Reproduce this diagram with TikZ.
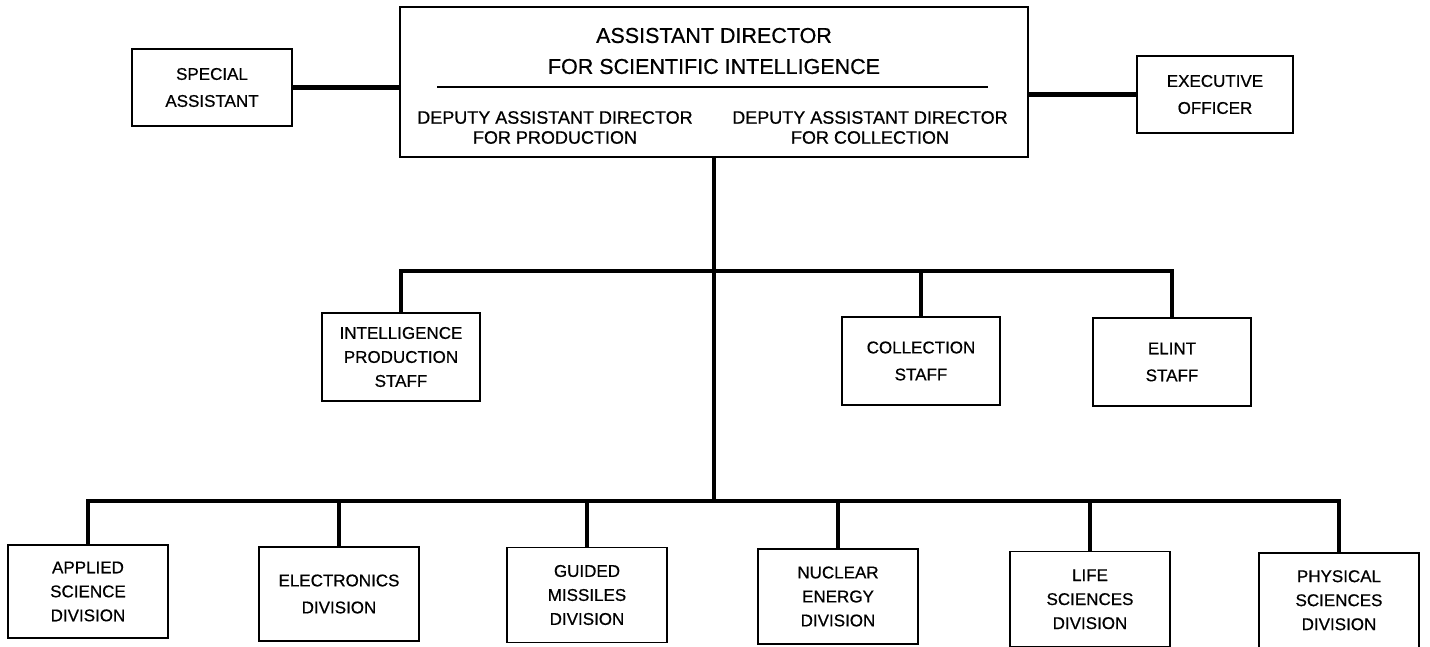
\documentclass[tikz,border=0pt]{standalone}
\usepackage{fontspec}
\setmainfont{Liberation Sans}[FakeBold=0.6]

\begin{document}
\begin{tikzpicture}[x=1pt,y=-1pt]
\tikzset{
  orgbox/.style={draw,line width=1.3pt,align=center,inner sep=0pt,font=\fontsize{17}{27}\selectfont},
  staffbox/.style={orgbox,minimum width=158pt,minimum height=88pt},
  divbox/.style={orgbox,minimum width=160pt,minimum height=95pt,font=\fontsize{17}{24}\selectfont},
  deputy/.style={align=center,inner sep=0pt,font=\fontsize{18}{20}\selectfont},
  link/.style={line width=4.5pt,line join=miter}
}
\useasboundingbox (0,0) rectangle (1430,646);
\fill[white] (0,0) rectangle (1430,646);
% head of the office
\node[orgbox,minimum width=628pt,minimum height=150pt] (asd) at (714,82) {};
\node[align=center,inner sep=0pt,font=\fontsize{21.5}{31}\selectfont] (asdtitle) at (714,51) {ASSISTANT DIRECTOR\\FOR SCIENTIFIC INTELLIGENCE};
\coordinate (rulel) at (437,87);
\coordinate (ruler) at (988,87);
\draw[line width=1.1pt] (rulel) -- (ruler);
\node[deputy] (dprod) at (555,127.5) {DEPUTY ASSISTANT DIRECTOR\\FOR PRODUCTION};
\node[deputy] (dcoll) at (870,127.5) {DEPUTY ASSISTANT DIRECTOR\\FOR COLLECTION};
\node[orgbox,minimum width=160pt,minimum height=77pt] (spec) at (212,87.5) {SPECIAL\\ASSISTANT};
\node[orgbox,minimum width=156pt,minimum height=77pt] (exec) at (1215,94.5) {EXECUTIVE\\OFFICER};
\draw[link] (spec.east) -- (spec.east -| asd.west);
\draw[link] (exec.west) -- (exec.west -| asd.east);
% staffs
\node[staffbox,font=\fontsize{17}{24}\selectfont] (ips) at (401,357) {INTELLIGENCE\\PRODUCTION\\STAFF};
\node[staffbox] (colls) at (921,361) {COLLECTION\\STAFF};
\node[staffbox] (elint) at (1172,362) {ELINT\\STAFF};
% divisions
\node[divbox,minimum height=93pt] (appl) at (88,591.5) {APPLIED\\SCIENCE\\DIVISION};
\node[divbox,minimum height=94pt,font=\fontsize{17}{27}\selectfont] (elec) at (339,594) {ELECTRONICS\\DIVISION};
\node[divbox] (guid) at (587,595) {GUIDED\\MISSILES\\DIVISION};
\node[divbox] (nucl) at (838,596.5) {NUCLEAR\\ENERGY\\DIVISION};
\node[divbox,minimum height=95.5pt] (life) at (1090,599.25) {LIFE\\SCIENCES\\DIVISION};
\node[divbox,minimum height=94.5pt] (phys) at (1339,600.25) {PHYSICAL\\SCIENCES\\DIVISION};
% connectors
\coordinate (j1) at (714,271);
\coordinate (j2) at (714,501);
\draw[link] (asd.south) -- (j2);
\draw[link] (ips.north) -- (ips.north |- j1) -- (elint.north |- j1) -- (elint.north);
\draw[link] (colls.north) -- (colls.north |- j1);
\draw[link] (appl.north) -- (appl.north |- j2) -- (phys.north |- j2) -- (phys.north);
\foreach \d in {elec,guid,nucl,life}
  \draw[link] (\d.north) -- (\d.north |- j2);
\end{tikzpicture}
\end{document}
